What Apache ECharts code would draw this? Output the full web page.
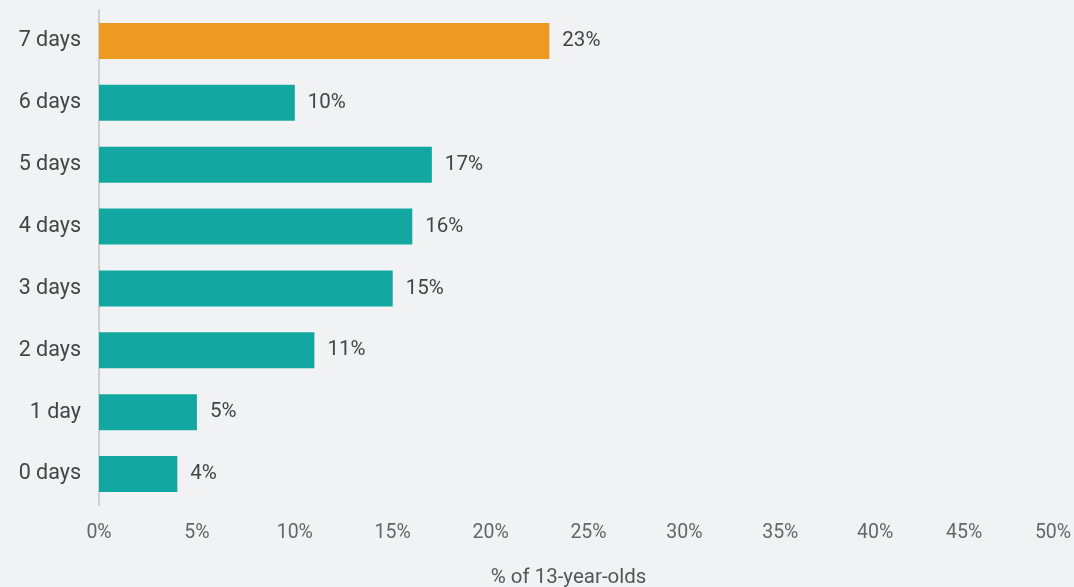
<!DOCTYPE html>
<html>
<head>
<meta charset="utf-8">
<script src="https://cdn.jsdelivr.net/npm/echarts@6/dist/echarts.min.js"></script>
<style>
  html, body { margin: 0; padding: 0; background: #F1F2F4; }
  #chart { width: 1074px; height: 587px; }
</style>
</head>
<body>
<div id="chart"></div>
<script>
// Days per week of physical activity among 13-year-olds
const categories = ['0 days', '1 day', '2 days', '3 days', '4 days', '5 days', '6 days', '7 days'];
const shares = [4, 5, 11, 15, 16, 17, 10, 23];
const highlightCategory = '7 days';
const axisName = '% of 13-year-olds';

const TEAL = '#12A8A1';
const ORANGE = '#EC9A22';

// leftward nudge (px) for the tick labels near the right edge,
// so the last ones stay inside the canvas
const tickNudge = { 30: 2, 35: 4, 40: 7, 45: 16, 50: 25 };
const rich = {};
Object.keys(tickNudge).forEach(k => {
  rich['t' + k] = { padding: [0, tickNudge[k] * 2, 0, 0] };
});

const chart = echarts.init(document.getElementById('chart'), null, { renderer: 'canvas' });

chart.setOption({
  backgroundColor: '#F1F2F4',
  animation: false,
  textStyle: { fontFamily: 'Roboto, sans-serif' },
  grid: {
    left: 99, right: -4, top: 10, bottom: 82,
    containLabel: false,
    outerBoundsMode: 'none'
  },
  xAxis: {
    type: 'value',
    min: 0,
    max: 50,
    interval: 5,
    name: axisName,
    nameLocation: 'middle',
    nameGap: 62,
    nameTextStyle: {
      color: '#555', fontSize: 20.5, fontFamily: 'Roboto, sans-serif',
      padding: [0, 40, 0, 0]
    },
    axisLine: { show: false },
    axisTick: { show: false },
    splitLine: { show: false },
    axisLabel: {
      color: '#666',
      fontSize: 19.5,
      margin: 18,
      rich: Object.assign({}, rich),
      formatter: v => tickNudge[v] ? '{t' + v + '|' + v + '%}' : v + '%'
    }
  },
  yAxis: {
    type: 'category',
    data: categories,
    axisLine: { show: true, lineStyle: { color: '#CFCFCF', width: 2 } },
    axisTick: { show: false },
    splitLine: { show: false },
    axisLabel: { color: '#444', fontSize: 21.5, margin: 18 }
  },
  series: [{
    type: 'bar',
    barWidth: 36,
    data: shares.map((v, i) => ({
      value: v,
      itemStyle: { color: categories[i] === highlightCategory ? ORANGE : TEAL }
    })),
    label: {
      show: true,
      position: 'right',
      distance: 13,
      color: '#444',
      fontSize: 20.5,
      formatter: p => p.value + '%'
    }
  }]
});
</script>
</body>
</html>
